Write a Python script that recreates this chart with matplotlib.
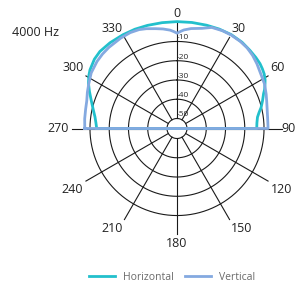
import numpy as np
import matplotlib
matplotlib.use("Agg")
import matplotlib.pyplot as plt

plt.rcParams['font.family'] = ['Open Sans', 'DejaVu Sans']

# ---- data (angle in degrees, level in dB) ----
h_angles = [-90, -86, -82, -77, -72, -67, -63, -59, -56, -50, -45, -38, -30, -23, -16, -8, 0,
            8, 16, 23, 30, 37, 43, 48, 52, 55, 58, 61, 63, 66, 68, 72, 76, 79, 82, 86, 90]
h_db = [-13.5, -13.0, -12.2, -10.5, -8.4, -5.8, -3.6, -1.8, -0.7, 0.8, 1.4, 1.3, 1.0, 0.8, 0.5, 0.3, 0.3,
        0.4, 0.6, 0.9, 1.1, 0.9, 0.3, -0.1, -0.5, -1.1, -1.8, -2.9, -3.9, -5.4, -6.7, -8.5, -10.2, -11.8, -13.0, -13.6, -13.8]

v_angles = [-90, -84, -78, -73, -68, -63, -57, -50, -45, -40, -32, -26, -21, -17, -12, -8, -4, -2, 0,
            2, 4, 8, 14, 19, 25, 30, 36, 41, 46, 51, 57, 63, 69, 73, 77, 83, 90]
v_db = [-7.3, -7.0, -6.7, -6.2, -5.0, -3.8, -2.1, -1.0, -0.5, -0.2, 0.1, 0.2, -0.2, -1.0, -2.2, -3.0, -4.0, -4.8, -5.7,
        -4.8, -3.9, -2.8, -1.6, 0.3, 0.8, 0.9, 0.7, 0.3, -0.6, -1.8, -3.3, -4.2, -5.6, -6.5, -7.2, -7.8, -7.9]

ring_levels = [-10, -20, -30, -40, -50]
ring_labels = ["-10", "-20", "-30", "-40", "-50"]
spoke_angles = [0, 30, 60, 90, 120, 150, 180, 210, 240, 270, 300, 330]
spoke_labels = ["0", "30", "60", "90", "120", "150", "180", "210", "240", "270", "300", "330"]

series_names = ["Horizontal", "Vertical"]
series_colors = ["#22C0CC", "#84A9E0"]
title_text = "4000 Hz"

RMIN = -55.2
RMAX = 0.0

W, H = 297, 286
fig = plt.figure(figsize=(W / 100, H / 100), dpi=100)
cx, cy, R = 177, 128.5, 106.3
ax = fig.add_axes([(cx - R) / W, (H - cy - R) / H, 2 * R / W, 2 * R / H], projection='polar')
ax.set_theta_zero_location('N')
ax.set_theta_direction(-1)
ax.set_ylim(RMIN, RMAX)
ax.grid(False)
ax.set_xticks([])
ax.set_yticks([])
ax.spines['polar'].set_visible(False)
ax.patch.set_alpha(0)

gcol = '#1a1a1a'
full = np.linspace(0, 2 * np.pi, 361)
for lv in ring_levels:
    ax.plot(full, np.full_like(full, lv), color=gcol, lw=0.8, zorder=1)
for a in spoke_angles:
    ax.plot([np.deg2rad(a)] * 2, [ring_levels[-1], -0.6], color=gcol, lw=0.8, zorder=1, clip_on=False)

# angle labels
for a, lab in zip(spoke_angles, spoke_labels):
    t = np.deg2rad(a)
    s, c = np.sin(t), np.cos(t)
    if a == 90:
        # keep inside the figure edge
        fig.text(296 / W, 1 - cy / H, lab, ha='right', va='center', fontsize=9, color='#222222')
        continue
    ha = 'left' if s > 0.1 else ('right' if s < -0.1 else 'center')
    va = 'bottom' if c > 0.1 else ('top' if c < -0.1 else 'center')
    ax.text(t, 1.0, lab, ha=ha, va=va, fontsize=9, color='#222222', clip_on=False)

# dB labels
for lv, lab in zip(ring_levels, ring_labels):
    ax.text(0, lv, lab, ha='left', va='bottom', fontsize=6, color='#2a2a2a')

def closed(angles, db):
    th = list(np.deg2rad(angles)) + [np.deg2rad(angles[-1]), np.deg2rad(angles[0]), np.deg2rad(angles[0])]
    rr = list(db) + [RMIN, RMIN, db[0]]
    return th, rr

for (ang, db), name, col, z in zip([(h_angles, h_db), (v_angles, v_db)], series_names, series_colors, [3, 4]):
    th, rr = closed(ang, db)
    ax.plot(th, rr, color=col, lw=2.0, label=name, zorder=z, clip_on=False,
            solid_joinstyle='round')

fig.text(12 / W, 1 - 32 / H, title_text, ha='left', va='center', fontsize=9, color='#222222')

fig.legend(loc='center', bbox_to_anchor=(172 / W, 9 / H), ncol=2, frameon=False,
           fontsize=7.5, handlelength=2.5, handletextpad=0.77, columnspacing=1.15,
           borderpad=0, labelcolor='#6a6a6a')

fig.savefig('out.png', dpi=100)
